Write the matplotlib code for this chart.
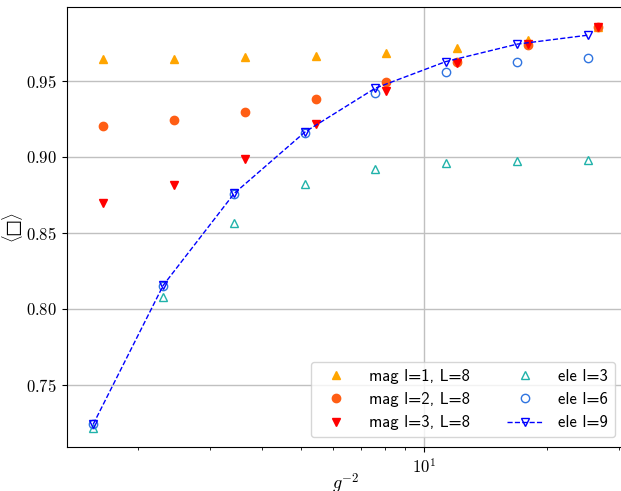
import numpy as np
import matplotlib
matplotlib.use('Agg')
import matplotlib.pyplot as plt

# g^-2 positions (electric runs and the slightly shifted magnetic runs)
x_ele = [1.55, 2.30, 3.43, 5.11, 7.59, 11.3, 16.9, 25.2]
x_mag = [1.64, 2.44, 3.65, 5.44, 8.07, 12.0, 17.97, 26.6]

mag_l1 = [0.9643, 0.9645, 0.9652, 0.9663, 0.9684, 0.9715, 0.9770, 0.9852]
mag_l2 = [0.9204, 0.9239, 0.9294, 0.9377, 0.9493, 0.9621, 0.9737, 0.9850]
mag_l3 = [0.8696, 0.8813, 0.8984, 0.9213, 0.9434, 0.9614, 0.9740, 0.9852]

ele_l3 = [0.7217, 0.8077, 0.8565, 0.8818, 0.8920, 0.8960, 0.8973, 0.8978]
ele_l6 = [0.7238, 0.8150, 0.8755, 0.9158, 0.9417, 0.9557, 0.9623, 0.9648]
ele_l9 = [0.7240, 0.8154, 0.8758, 0.9162, 0.9450, 0.9625, 0.9740, 0.9799]

plt.rcParams['font.family'] = 'serif'
plt.rcParams['font.serif'] = ['cmr10']
plt.rcParams['mathtext.fontset'] = 'cm'
plt.rcParams['axes.formatter.use_mathtext'] = True
plt.rcParams['font.size'] = 12

fig = plt.figure(figsize=(6.21, 4.91), dpi=100)
ax = fig.add_axes([67/621, 44/491, 558/621, 440/491])

ax.plot(x_mag, mag_l1, '^', color='orange', ms=6, label='mag l=1, L=8')
ax.plot(x_mag, mag_l2, 'o', color='#ff5e14', ms=6, label='mag l=2, L=8')
ax.plot(x_mag, mag_l3, 'v', color='red', ms=6, label='mag l=3, L=8')
ax.plot(x_ele, ele_l3, '^', color='lightseagreen', mfc='none', ms=6, label='ele l=3')
ax.plot(x_ele, ele_l6, 'o', color='#2f74e0', mfc='none', ms=6, label='ele l=6')
ax.plot(x_ele, ele_l9, 'v--', color='blue', mfc='none', ms=6, lw=1, label='ele l=9')

ax.set_xscale('log')
ax.set_xlim(1.337, 31.0)
ax.set_ylim(0.709, 0.9984)
ax.set_yticks([0.75, 0.80, 0.85, 0.90, 0.95])
ax.set_yticklabels(['$0.75$', '$0.80$', '$0.85$', '$0.90$', '$0.95$'])
ax.grid(True, which='major', color='#c0c0c0', lw=1)
ax.set_axisbelow(True)

ax.set_xlabel(r'$g^{-2}$', fontsize=13, labelpad=-3)
ax.set_ylabel('$\\langle □ \\rangle$', fontsize=12, labelpad=1)

ax.legend(loc='lower right', ncol=2, prop={'family': 'cmss10', 'size': 12},
          columnspacing=2.2, handlelength=2.2, handletextpad=0.9,
          borderaxespad=0.6)

fig.savefig('out.png', dpi=100)
